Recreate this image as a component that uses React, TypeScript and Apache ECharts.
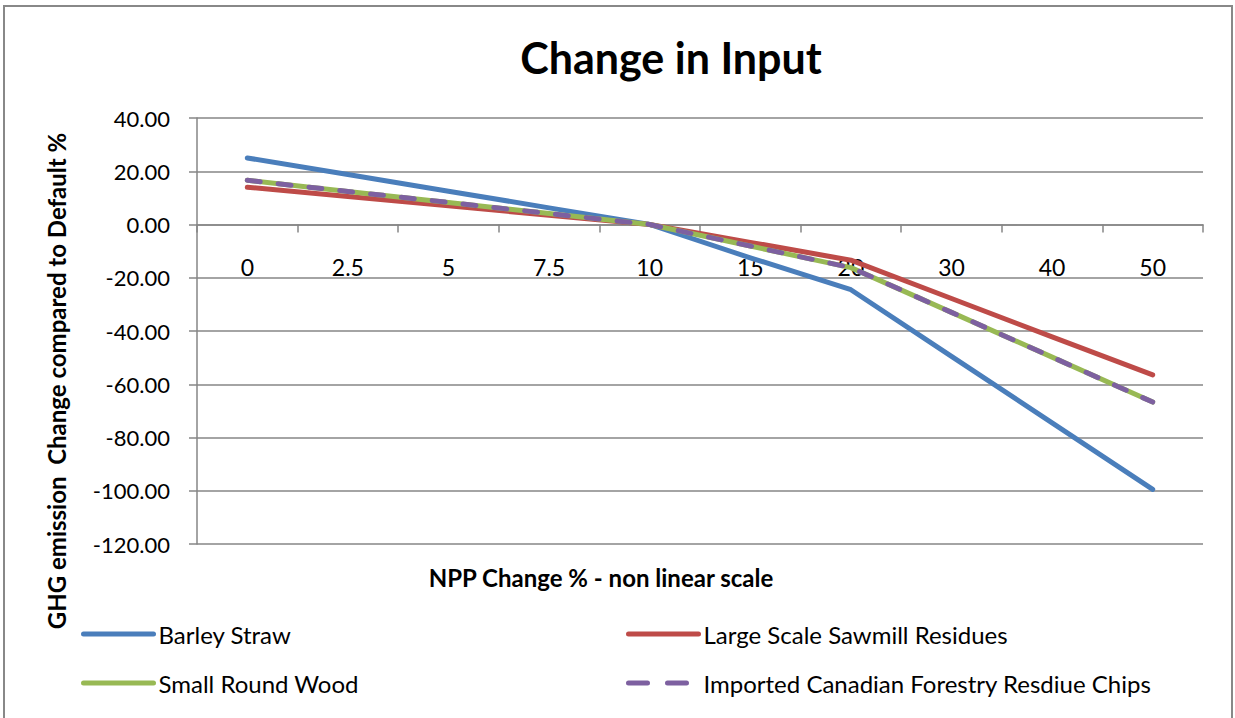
import React, { useEffect, useRef } from "react";
import * as echarts from "echarts";

const categories = ["0", "2.5", "5", "7.5", "10", "15", "20", "30", "40", "50"];
const barleyStraw = [25, 18.75, 12.5, 6.25, 0, -12.5, -24.5, -49.5, -74.5, -99.5];
const sawmillResidues = [14, 10.5, 7, 3.5, 0, -6.7, -13.4, -27.8, -42.2, -56.5];
const smallRoundWood = [16.6, 12.4, 8.3, 4.1, 0, -8.1, -16.2, -33, -49.8, -66.7];
const canadianChips = [16.6, 12.4, 8.3, 4.1, 0, -8.1, -16.2, -33, -49.8, -66.7];
const seriesNames = [
  "Barley Straw",
  "Large Scale Sawmill Residues",
  "Small Round Wood",
  "Imported Canadian Forestry Resdiue Chips",
];
const Y_MIN = -120;
const Y_MAX = 40;

const FONT = "Lato, 'Open Sans', sans-serif";

export default function App() {
  const ref = useRef<HTMLDivElement>(null);
  useEffect(() => {
    document.body.style.margin = "0";
    const chart = echarts.init(ref.current!, null, { renderer: "svg" });
    const gridTop = 118;
    const gridHeight = 426;
    const zeroOffset = -(gridHeight * (0 - Y_MIN)) / (Y_MAX - Y_MIN);
    const legendText = { fontSize: 24, color: "#000", fontFamily: FONT };
    const mkLegend = (name: string, left: number, top: number, lineType?: any) => ({
      show: true,
      data: [name],
      left,
      top,
      padding: 0,
      itemWidth: 70,
      itemHeight: 20,
      itemGap: 4,
      textStyle: legendText,
      itemStyle: { opacity: 0 },
      lineStyle: lineType ? { width: 5, type: lineType, cap: "round" } : { width: 5 },
    });
    chart.setOption({
      animation: false,
      backgroundColor: "#fff",
      title: {
        text: "Change in Input",
        left: 666,
        top: 31,
        textAlign: "center",
        textStyle: { fontSize: 43, fontWeight: "bold", color: "#000", fontFamily: FONT },
      },
      grid: { left: 197, top: gridTop, width: 1006, height: gridHeight, containLabel: false },
      legend: [
        mkLegend(seriesNames[0], 81, 622),
        mkLegend(seriesNames[1], 626, 622),
        mkLegend(seriesNames[2], 81, 671),
        mkLegend(seriesNames[3], 626, 671, [19, 20]),
      ],
      xAxis: {
        type: "category",
        data: categories,
        boundaryGap: true,
        position: "bottom",
        offset: zeroOffset,
        axisLine: { onZero: false, lineStyle: { color: "#868686", width: 1.5 } },
        axisTick: { show: true, length: 8, alignWithLabel: false, lineStyle: { color: "#868686", width: 1.5 } },
        axisLabel: { margin: 31, fontSize: 23, color: "#000", fontFamily: FONT },
        splitLine: { show: false },
      },
      yAxis: {
        type: "value",
        min: Y_MIN,
        max: Y_MAX,
        interval: 20,
        axisLine: { show: true, lineStyle: { color: "#868686", width: 1.5 } },
        axisTick: { show: true, length: 8, lineStyle: { color: "#868686", width: 1.5 } },
        axisLabel: {
          margin: 27,
          fontSize: 22,
          color: "#000",
          fontFamily: FONT,
          formatter: (v: number) => v.toFixed(2),
        },
        splitLine: { show: true, lineStyle: { color: "#868686", width: 1.5 } },
      },
      graphic: [
        {
          type: "rect",
          shape: { x: 4, y: 6, width: 1228, height: 740 },
          style: { fill: "none", stroke: "#888", lineWidth: 2 },
          silent: true,
        },
        {
          type: "text",
          x: 56,
          y: 381,
          rotation: Math.PI / 2,
          style: {
            text: "GHG emission  Change compared to Default %",
            fontSize: 24,
            fontWeight: "bold",
            fill: "#000",
            fontFamily: FONT,
            textAlign: "center",
            textVerticalAlign: "middle",
          },
        },
        {
          type: "text",
          x: 601,
          y: 577,
          style: {
            text: "NPP Change % - non linear scale",
            fontSize: 24,
            fontWeight: "bold",
            fill: "#000",
            fontFamily: FONT,
            textAlign: "center",
            textVerticalAlign: "middle",
          },
        },
      ],
      series: [
        {
          name: seriesNames[0],
          type: "line",
          data: barleyStraw,
          showSymbol: false,
          color: "#4a7ebb",
          lineStyle: { width: 5, color: "#4a7ebb", cap: "round", join: "round" },
        },
        {
          name: seriesNames[1],
          type: "line",
          data: sawmillResidues,
          showSymbol: false,
          color: "#be4b48",
          lineStyle: { width: 5, color: "#be4b48", cap: "round", join: "round" },
        },
        {
          name: seriesNames[2],
          type: "line",
          data: smallRoundWood,
          showSymbol: false,
          color: "#98b954",
          lineStyle: { width: 5, color: "#98b954", cap: "round", join: "round" },
        },
        {
          name: seriesNames[3],
          type: "line",
          data: canadianChips,
          showSymbol: false,
          color: "#7d60a0",
          lineStyle: { width: 5, color: "#7d60a0", type: [13, 18], cap: "round", join: "round" },
        },
      ],
    });
    return () => chart.dispose();
  }, []);
  return <div ref={ref} style={{ width: 1235, height: 718 }} />;
}
